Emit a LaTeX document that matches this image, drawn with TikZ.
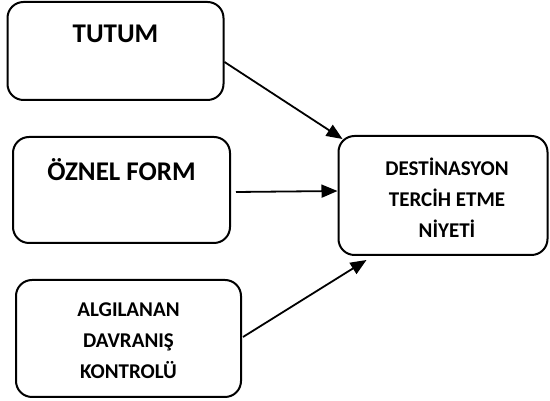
\documentclass[tikz,border=0pt]{standalone}
\usepackage{fontspec}
\setmainfont{Carlito}
\usetikzlibrary{arrows.meta}
\begin{document}
\begin{tikzpicture}[x=1pt,y=1pt,
  box/.style={draw,line width=2pt,rounded corners=16pt,minimum width=#1},
  big/.style={font=\fontsize{27}{30}\selectfont\bfseries},
  small/.style={font=\fontsize{21}{31}\selectfont\bfseries,align=center},
  arr/.style={line width=1.8pt,-{Triangle[length=16pt,width=13pt]}}]
\useasboundingbox (0,0) rectangle (550,401);
\node[box=216pt,minimum height=98pt] (b1) at (115.5,350) {};
\node[box=217pt,minimum height=106pt] (b2) at (121.5,211) {};
\node[box=225pt,minimum height=117pt] (b3) at (128.5,62.5) {};
\node[box=209pt,minimum height=119pt] (b4) at (443,205.5) {};
\node[big] (t1) at (115.5,367) {TUTUM};
\node[big] (t2) at (121.5,231) {ÖZNEL FORM};
\node[small] (t3) at (128.5,60) {ALGILANAN\\DAVRANIŞ\\KONTROLÜ};
\node[small] (t4) at (447,203) {DESTİNASYON\\TERCİH ETME\\NİYETİ};
\draw[arr] ([yshift=-11pt]b1.east) -- ([xshift=5pt,yshift=-4pt]b4.north west);
\draw[arr] ([xshift=5pt,yshift=-2pt]b2.east) -- ([yshift=4.5pt]b4.west);
\draw[arr] ([xshift=1pt,yshift=1.5pt]b3.east) -- ([xshift=29pt,yshift=-4pt]b4.south west);
\end{tikzpicture}
\end{document}
